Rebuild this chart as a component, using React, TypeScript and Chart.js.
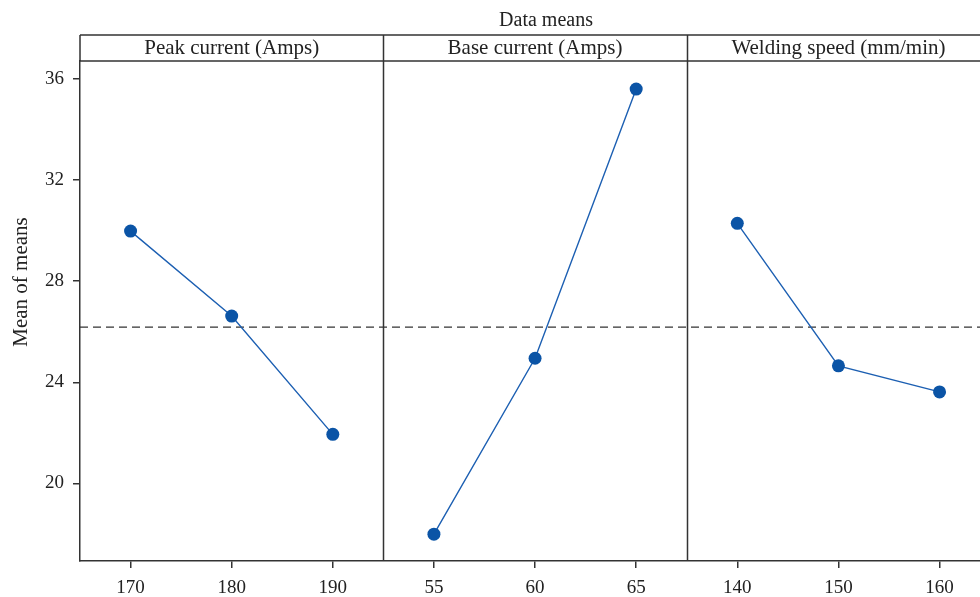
import React, { useEffect, useRef } from "react";
import { Chart, registerables } from "chart.js";

Chart.register(...registerables);

// Factor names and their levels
const factorNames = ["Peak current (Amps)", "Base current (Amps)", "Welding speed (mm/min)"];
const peakLevels = [170, 180, 190];
const baseLevels = [55, 60, 65];
const speedLevels = [140, 150, 160];

// Mean of means at each level
const peakMeans = [29.98, 26.62, 21.94];
const baseMeans = [17.99, 24.95, 35.6];
const speedMeans = [30.29, 24.65, 23.62];

const yTicks = [20, 24, 28, 32, 36];

const FONT = "'Liberation Serif', 'Times New Roman', serif";
const INK = "#333333";
const BLUE = "#0b54a6";

const levelSets = [peakLevels, baseLevels, speedLevels];
const meanSets = [peakMeans, baseMeans, speedMeans];

// each panel spans 3 units on the shared x scale; levels sit at the centres
const tickPositions: number[] = [];
const tickLabels: string[] = [];
levelSets.forEach((lv, p) =>
  lv.forEach((v, i) => {
    tickPositions.push(p * 3 + i + 0.5);
    tickLabels.push(String(v));
  })
);

const allMeans = meanSets.flat();
const grandMean = allMeans.reduce((a, b) => a + b, 0) / allMeans.length;

const panelFrame = {
  id: "panelFrame",
  afterDraw(chart: any) {
    const { ctx, chartArea } = chart;
    const xs = chart.scales.x;
    const headerTop = chartArea.top - 26;
    ctx.save();
    ctx.strokeStyle = INK;
    ctx.lineWidth = 1.5;
    ctx.beginPath();
    // header strip
    ctx.moveTo(chartArea.left, headerTop);
    ctx.lineTo(chartArea.right, headerTop);
    ctx.moveTo(chartArea.left, chartArea.top);
    ctx.lineTo(chartArea.right, chartArea.top);
    ctx.moveTo(chartArea.left, headerTop);
    ctx.lineTo(chartArea.left, chartArea.top);
    // panel dividers
    [3, 6].forEach((v) => {
      const px = Math.round(xs.getPixelForValue(v)) + 0.5;
      ctx.moveTo(px, headerTop);
      ctx.lineTo(px, chartArea.bottom);
    });
    ctx.stroke();

    ctx.fillStyle = "#222";
    ctx.textAlign = "center";
    ctx.textBaseline = "alphabetic";
    ctx.font = `21px ${FONT}`;
    factorNames.forEach((name, p) => {
      const cx = (xs.getPixelForValue(p * 3) + xs.getPixelForValue(p * 3 + 3)) / 2;
      ctx.fillText(name, cx, chartArea.top - 7);
    });

    // overall title
    ctx.font = `20px ${FONT}`;
    ctx.fillText("Data means", 546, 26);

    // y axis title
    ctx.save();
    ctx.translate(27, 282);
    ctx.rotate(-Math.PI / 2);
    ctx.font = `21px ${FONT}`;
    ctx.fillText("Mean of means", 0, 0);
    ctx.restore();
    ctx.restore();
  },
};

export default function App() {
  const canvasRef = useRef<HTMLCanvasElement | null>(null);

  useEffect(() => {
    if (!canvasRef.current) return;

    const datasets: any[] = meanSets.map((means, p) => ({
      label: factorNames[p],
      data: means.map((m, i) => ({ x: p * 3 + i + 0.5, y: m })),
      borderColor: "#1c5fb2",
      borderWidth: 1.4,
      backgroundColor: BLUE,
      pointBackgroundColor: BLUE,
      pointBorderColor: BLUE,
      pointRadius: 6.5,
      pointBorderWidth: 0,
      tension: 0,
      order: 1,
    }));

    datasets.push({
      label: "Mean",
      data: [
        { x: 0, y: grandMean },
        { x: 9, y: grandMean },
      ],
      borderColor: "#333333",
      borderWidth: 1.4,
      borderDash: [8, 5],
      pointRadius: 0,
      order: 2,
    });

    const chart = new Chart(canvasRef.current, {
      type: "line",
      data: { datasets },
      options: {
        animation: false,
        responsive: false,
        devicePixelRatio: 1,
        layout: { autoPadding: false, padding: { top: 61, left: 0, right: 0, bottom: 0 } },
        plugins: {
          legend: { display: false },
          title: { display: false },
          tooltip: { enabled: false },
        },
        scales: {
          x: {
            type: "linear",
            min: 0,
            max: 8.9,
            afterBuildTicks: (scale: any) => {
              scale.ticks = tickPositions.map((v) => ({ value: v }));
            },
            afterFit: (scale: any) => {
              scale.height = 36;
              scale.paddingLeft = 0;
              scale.paddingRight = 0;
            },
            ticks: {
              autoSkip: false,
              maxRotation: 0,
              padding: 9,
              color: "#222",
              font: { family: FONT, size: 19 },
              callback: (_v: any, i: number) => tickLabels[i],
            },
            grid: { drawOnChartArea: false, tickLength: 7, color: INK, lineWidth: 1.5 },
            border: { display: true, color: INK, width: 1.5 },
          },
          y: {
            type: "linear",
            min: 16.93,
            max: 36.71,
            afterBuildTicks: (scale: any) => {
              scale.ticks = yTicks.map((v) => ({ value: v }));
            },
            afterFit: (scale: any) => {
              scale.width = 80;
              scale.paddingTop = 0;
              scale.paddingBottom = 0;
            },
            ticks: {
              padding: 9,
              color: "#222",
              font: { family: FONT, size: 19 },
              callback: (v: any) => String(v),
            },
            grid: { drawOnChartArea: false, tickLength: 7, color: INK, lineWidth: 1.5 },
            border: { display: true, color: INK, width: 1.5 },
          },
        },
      },
      plugins: [panelFrame],
    });

    return () => chart.destroy();
  }, []);

  return (
    <div style={{ position: "fixed", left: 0, top: 0, width: 980, height: 597, background: "#fff" }}>
      <canvas ref={canvasRef} width={980} height={597} />
    </div>
  );
}
